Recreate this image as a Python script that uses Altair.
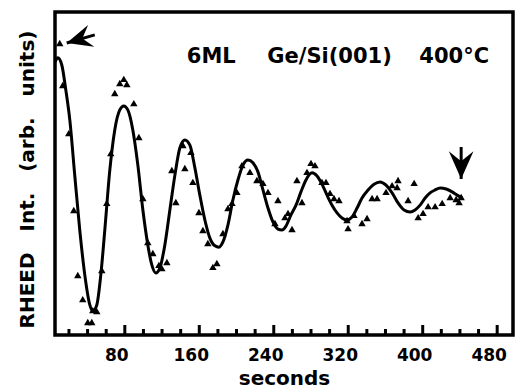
import altair as alt
import pandas as pd

# ---- data (time in seconds, intensity in arbitrary units 0-100) ----
pt_t = [10.1, 13.3, 19.8, 25.2, 29.5, 34.8, 40.2, 44.5, 45.6, 49.9, 55.3, 60.6, 64.9,
        69.2, 74.6, 78.9, 82.2, 89.7, 95.1, 99.4, 104.7, 110.1, 116.6, 119.8, 125.2,
        134.8, 130.5, 142.4, 151.0, 144.5, 153.1, 159.6, 163.9, 169.2, 174.6, 178.9,
        185.4, 190.8, 195.1, 200.4, 205.8, 214.4, 221.9, 228.4, 233.8, 244.5, 241.3,
        252.0, 255.3, 259.6, 270.3, 264.9, 275.7, 280.0, 284.3, 291.8, 296.1, 300.4,
        304.7, 310.1, 318.7, 319.8, 326.2, 334.8, 340.2, 345.6, 351.0, 360.6, 367.1,
        372.5, 373.5, 390.8, 384.3, 395.1, 400.4, 405.8, 413.3, 420.9, 429.5, 435.9,
        441.3, 439.1]
pt_v = [90.4, 77.4, 62.5, 38.7, 18.6, 11.1, 4.0, 4.0, 7.7, 7.4, 20.1, 40.9, 56.3,
        74.9, 78.0, 79.3, 77.7, 71.8, 61.3, 42.4, 28.8, 25.4, 21.7, 20.7, 22.6,
        41.2, 51.1, 58.8, 56.7, 51.7, 47.4, 38.1, 32.5, 28.5, 21.1, 22.3,
        31.6, 39.3, 40.9, 44.3, 52.6, 50.5, 48.0, 47.1, 44.3, 41.8, 34.7,
        36.5, 37.8, 32.8, 41.2, 48.0, 50.5, 53.3, 52.6, 47.4, 47.4, 44.0,
        42.4, 41.8, 35.6, 33.1, 37.2, 34.7, 36.2, 42.4, 42.4, 44.3, 46.4,
        45.8, 48.0, 47.1, 41.8, 36.5, 37.8, 39.9, 39.9, 40.9, 42.7, 42.1,
        42.7, 41.2]

line_t = [5.0, 8.0, 12.3, 16.6, 20.9, 26.2, 31.6, 37.0, 42.4, 45.6, 49.9, 54.2, 58.5,
          63.9, 69.2, 74.6, 78.9, 83.2, 88.6, 94.0, 99.4, 104.7, 109.0, 113.3, 117.6,
          123.0, 128.4, 133.8, 139.1, 144.5, 149.9, 155.3, 160.6, 166.0, 171.4, 176.8,
          181.1, 185.4, 190.8, 196.1, 201.5, 206.9, 212.3, 217.6, 223.0, 228.4, 233.8,
          239.1, 244.5, 248.8, 253.1, 258.5, 263.9, 269.2, 274.6, 281.1, 286.5, 291.8,
          297.2, 302.6, 308.0, 313.3, 318.7, 324.1, 329.5, 334.8, 341.3, 347.7, 354.2,
          360.6, 367.1, 373.5, 380.0, 386.5, 391.8, 397.2, 402.6, 407.9, 413.3, 418.7,
          425.2, 431.6, 437.0, 442.4]
line_v = [84.5, 85.8, 83.6, 75.9, 66.6, 49.5, 32.5, 18.6, 9.3, 7.4, 9.3, 18.6, 32.5,
          51.1, 63.5, 69.7, 70.9, 69.7, 63.5, 52.6, 38.7, 27.9, 21.7, 19.2, 20.7,
          27.9, 38.7, 49.5, 57.9, 60.4, 58.8, 51.7, 43.3, 35.6, 30.0, 27.6,
          27.2, 28.8, 34.1, 41.8, 48.0, 52.6, 54.2, 53.3, 50.5, 44.9, 39.3,
          35.0, 32.8, 32.5, 33.7, 37.2, 40.2, 44.3, 48.0, 50.2, 49.2, 46.7,
          43.3, 40.2, 37.8, 36.2, 35.6, 36.5, 39.3, 42.4, 44.9, 46.7, 47.4,
          46.4, 44.0, 40.9, 38.7, 38.1, 38.7, 40.2, 42.4, 44.0, 44.9, 45.5,
          45.2, 44.3, 43.3, 42.4]

major_ticks = [80, 160, 240, 320, 400, 480]
minor_ticks = [20, 40, 60, 100, 120, 140, 180, 200, 220, 260, 280, 300,
               340, 360, 380, 420, 440, 460]
tick_labels = ["80", "160", "240", "320", "400", "480"]

note_text = ["6ML", "Ge/Si(001)", "400°C"]
note_t = [172.9, 299.9, 433.8]
note_v = [84.2, 84.2, 84.2]

arrow_tail_t = [47.7, 441.3]
arrow_tail_v = [92.9, 58.2]
arrow_tip_t = [17.6, 441.3]
arrow_tip_v = [90.4, 48.3]
arrow_angle = [254, 180]
arrow_size = [800, 950]

y_title = "RHEED\u00a0\u00a0\u00a0Int.\u00a0\u00a0\u00a0(arb.\u00a0\u00a0\u00a0units)"
x_title = "seconds"

# ---- tables ----
pts = pd.DataFrame({"t": pt_t, "v": pt_v})
fit = pd.DataFrame({"t": line_t, "v": line_v})
majors = pd.DataFrame({"t": major_ticks, "lab": tick_labels})
minors = pd.DataFrame({"t": minor_ticks})
notes = pd.DataFrame({"t": note_t, "v": note_v, "txt": note_text})
arrows = pd.DataFrame({"t": arrow_tail_t, "v": arrow_tail_v, "t2": arrow_tip_t,
                       "v2": arrow_tip_v, "ang": arrow_angle, "sz": arrow_size})

FONT = "DejaVu Sans"
W, H = 458, 323
xs = alt.Scale(domain=[5, 497], nice=False, zero=False)
ys = alt.Scale(domain=[0, 100], nice=False, zero=False)

x_axis = alt.Axis(values=major_ticks, domain=False, ticks=False, grid=False, labels=False,
                  titleFont=FONT, titleFontWeight="bold", titleFontSize=20,
                  titleColor="black", titleBaseline="alphabetic", titleY=49)
y_axis = alt.Axis(labels=False, ticks=False, domain=False, grid=False,
                  titleFont=FONT, titleFontWeight="bold", titleFontSize=20,
                  titleColor="black", titleAngle=270, titleBaseline="alphabetic",
                  titleAlign="center", titleX=-22, titleY=167)


def X(field):
    return alt.X(field, type="quantitative", scale=xs, title=x_title, axis=x_axis)


def Y(field):
    return alt.Y(field, type="quantitative", scale=ys, title=y_title, axis=y_axis)


points = alt.Chart(pts).mark_point(shape="triangle-up", filled=True, color="black",
                                   size=55, opacity=1).encode(x=X("t"), y=Y("v"))

curve = alt.Chart(fit).mark_line(color="black", strokeWidth=3,
                                 interpolate="monotone").encode(x=X("t"), y=Y("v"))

major_rules = alt.Chart(majors).mark_rule(color="black", strokeWidth=3).encode(
    x=X("t"), y=alt.value(H), y2=alt.value(H - 10),
)
major_labels = alt.Chart(majors).mark_text(font=FONT, fontWeight="bold", fontSize=17,
                                           color="black", align="center",
                                           baseline="top", dx=-8).encode(
    x=X("t"), y=alt.value(H + 13), text="lab:N",
)
minor_rules = alt.Chart(minors).mark_rule(color="black", strokeWidth=3).encode(
    x=X("t"), y=alt.value(H), y2=alt.value(H - 6),
)

note_marks = alt.Chart(notes).mark_text(font=FONT, fontWeight="bold", fontSize=21,
                                        color="black", align="center",
                                        baseline="alphabetic").encode(
    x=X("t"), y=Y("v"), text="txt:N",
)

shafts = alt.Chart(arrows).mark_rule(color="black", strokeWidth=3).encode(
    x=X("t"), x2="t2:Q", y=Y("v"), y2="v2:Q",
)
heads = alt.Chart(arrows).mark_point(
    shape="M0,0 L0.8,1.8 L0,1.15 L-0.8,1.8 Z", filled=True, color="black", opacity=1,
    strokeWidth=0).encode(
    x=X("t2"), y=Y("v2"),
    angle=alt.Angle("ang:Q", scale=None),
    size=alt.Size("sz:Q", scale=None, legend=None),
)

chart = alt.layer(points, curve, major_rules, minor_rules, major_labels, note_marks,
                  shafts, heads).properties(
    width=W, height=H,
    padding={"left": 55, "top": 12, "right": 3, "bottom": 53},
    autosize="none",
    background="white",
).configure_view(stroke="black", strokeWidth=3.5)

chart.save("out.html", embed_options={"renderer": "svg", "actions": False})
